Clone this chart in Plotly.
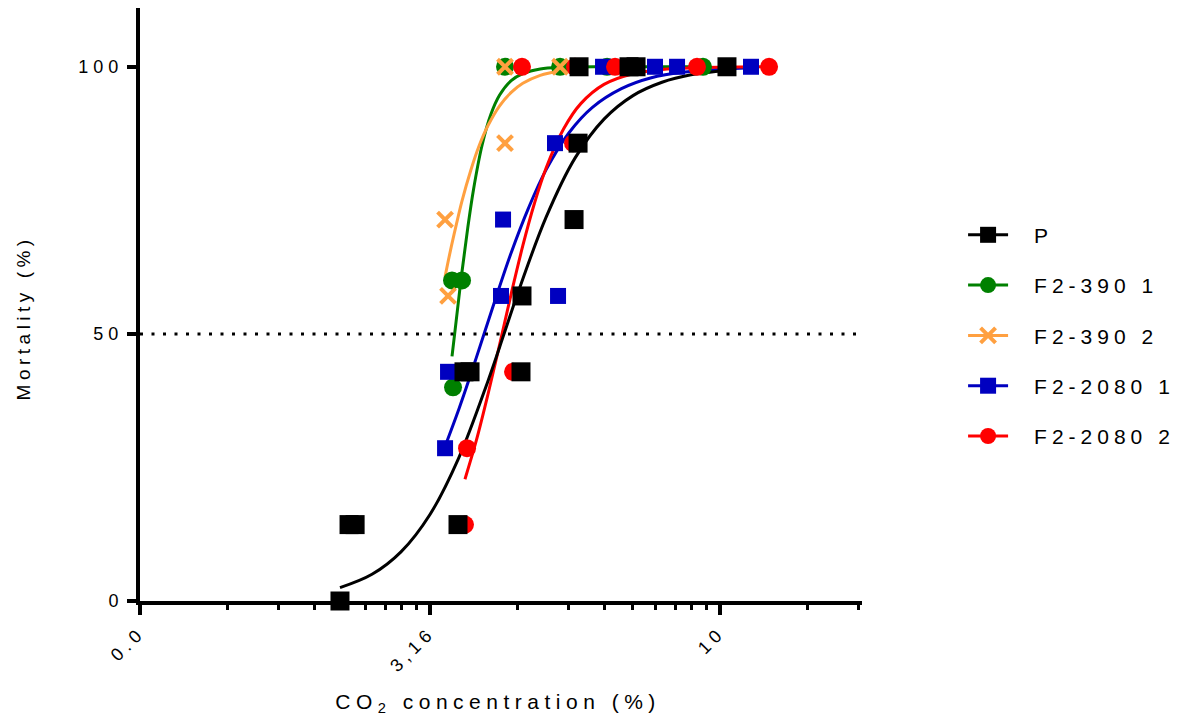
import plotly.graph_objects as go

# ---------------- observed data (CO2 %, mortality %) ----------------
p_x = [2.212, 2.293, 2.349, 3.534, 3.619, 3.707, 4.538, 4.556, 5.602, 5.692, 5.714, 6.968, 7.165, 10.28]
p_y = [0, 14.3, 14.3, 14.3, 42.9, 42.9, 42.9, 57.1, 71.4, 85.7, 100, 100, 100, 100]

g1_x = [3.451, 3.465, 3.591, 4.259, 5.299, 6.386, 9.347]
g1_y = [60, 40, 60, 100, 100, 100, 100]

g2_x = [3.357, 3.397, 4.259, 4.259, 5.299]
g2_y = [71.4, 57.1, 85.7, 100, 100]

b1_x = [3.357, 3.397, 4.192, 4.226, 5.194, 5.257, 6.285, 7.725, 8.432, 11.31]
b1_y = [28.6, 42.9, 57.1, 71.4, 85.7, 57.1, 100, 100, 100, 100]

b2_x = [3.633, 3.663, 4.397, 4.556, 5.580, 5.623, 6.592, 9.126, 12.15]
b2_y = [14.3, 28.6, 42.9, 100, 85.7, 100, 100, 100, 100]

# ---------------- fitted curves ----------------
p_fit_x = [2.212, 2.512, 2.818, 3.162, 3.548, 3.981, 4.243, 4.467, 5.012, 5.623, 6.310, 7.079, 7.943, 8.913, 10.28]
p_fit_y = [2.5, 5.0, 9.2, 16.2, 26.9, 41.2, 50.0, 57.2, 71.8, 82.9, 90.2, 94.6, 97.1, 98.5, 99.3]

g1_fit_x = [3.451, 3.508, 3.589, 3.673, 3.758, 3.890, 4.027, 4.169, 4.365, 4.571, 4.898, 5.370, 6.310, 9.347]
g1_fit_y = [45.8, 52.4, 61.5, 69.8, 77.0, 85.4, 91.1, 94.7, 97.4, 98.7, 99.6, 99.9, 100.0, 100.0]

g2_fit_x = [3.357, 3.428, 3.508, 3.589, 3.715, 3.846, 3.981, 4.169, 4.365, 4.571, 4.898, 5.299]
g2_fit_y = [60.7, 65.5, 70.3, 74.8, 80.5, 85.3, 89.0, 92.7, 95.2, 96.9, 98.4, 99.2]

b1_fit_x = [3.331, 3.548, 3.802, 4.074, 4.365, 4.677, 5.012, 5.495, 6.026, 6.761, 7.586, 8.710, 11.31]
b1_fit_y = [28.0, 36.0, 45.6, 55.6, 65.2, 73.6, 80.7, 87.7, 92.4, 95.9, 97.9, 99.0, 99.8]

b2_fit_x = [3.633, 3.802, 3.981, 4.169, 4.365, 4.571, 4.786, 5.012, 5.370, 5.754, 6.310, 7.079, 7.943, 8.913, 12.15]
b2_fit_y = [22.8, 30.1, 38.7, 48.0, 57.5, 66.5, 74.4, 81.0, 88.3, 93.1, 96.7, 98.7, 99.5, 99.8, 100.0]

# ---------------- labels ----------------
series_names = ["P", "F2-390 1", "F2-390 2", "F2-2080 1", "F2-2080 2"]
x_tick_vals = [1, 3.162, 10]
x_tick_text = ["0.0", "3,16", "10"]
y_tick_vals = [0, 50, 100]
x_minor_vals = [1.414, 1.732, 2.0, 2.236, 2.449, 2.646, 2.828, 3.0,
                4.472, 5.477, 6.325, 7.071, 7.746, 8.367, 8.944, 9.487,
                14.142, 17.32]

BLACK = "#000000"
GREEN = "#008000"
ORANGE = "#FFA040"
BLUE = "#0000C0"
RED = "#FF0000"
FONT = "Liberation Sans, Arial, sans-serif"

fig = go.Figure()

curves = [
    (g1_fit_x, g1_fit_y, GREEN),
    (g2_fit_x, g2_fit_y, ORANGE),
    (b1_fit_x, b1_fit_y, BLUE),
    (b2_fit_x, b2_fit_y, RED),
    (p_fit_x, p_fit_y, BLACK),
]
for cx, cy, col in curves:
    fig.add_trace(go.Scatter(x=cx, y=cy, mode="lines", showlegend=False,
                             line=dict(color=col, width=3, shape="spline"),
                             hoverinfo="skip", cliponaxis=False))

markers = [
    (g1_x, g1_y, GREEN, "circle", 18, None),
    (g2_x, g2_y, ORANGE, "x-thin", 15, 4),
    (b1_x, b1_y, BLUE, "square", 16, None),
    (b2_x, b2_y, RED, "circle", 18, None),
    (p_x, p_y, BLACK, "square", 19, None),
]
for mx, my, col, sym, sz, lw in markers:
    mk = dict(color=col, symbol=sym, size=sz)
    mk["line"] = dict(color=col, width=lw) if lw else dict(width=0)
    fig.add_trace(go.Scatter(x=mx, y=my, mode="markers", showlegend=False,
                             marker=mk, cliponaxis=False))

# legend entries
leg = [
    (series_names[0], BLACK, "square", 18, None),
    (series_names[1], GREEN, "circle", 18, None),
    (series_names[2], ORANGE, "x-thin", 15, 4),
    (series_names[3], BLUE, "square", 16, None),
    (series_names[4], RED, "circle", 18, None),
]
for i, (nm, col, sym, sz, lw) in enumerate(leg):
    mk = dict(color=col, symbol=sym, size=sz)
    mk["line"] = dict(color=col, width=lw) if lw else dict(width=0)
    fig.add_trace(go.Scatter(x=[None], y=[None], mode="lines+markers", name=nm,
                             legendgroup=f"g{i}", line=dict(color=col, width=3),
                             marker=mk))

fig.add_shape(type="line", xref="paper", yref="y", x0=0, x1=1, y0=50, y1=50,
              line=dict(color="black", width=3, dash="3px,8.5px"))

fig.update_layout(
    width=1179, height=724,
    margin=dict(l=140, r=317, t=8, b=123),
    paper_bgcolor="white", plot_bgcolor="white",
    font=dict(family=FONT, color="black"),
    showlegend=True,
    legend=dict(x=1.14, y=0.6515, xanchor="left", yanchor="top",
                font=dict(family=FONT, size=21, color="black"),
                tracegroupgap=20, itemwidth=40, bgcolor="rgba(0,0,0,0)"),
    xaxis=dict(type="log", range=[0, 1.2448], showline=True, linewidth=4, linecolor="black",
               ticks="outside", ticklen=10, tickwidth=4, tickcolor="black",
               tickmode="array", tickvals=x_tick_vals, ticktext=x_tick_text, tickangle=-45,
               tickfont=dict(family=FONT, size=18, color="black"),
               showgrid=False, zeroline=False,
               minor=dict(tickmode="array", tickvals=x_minor_vals, ticks="outside",
                          ticklen=5, tickwidth=3, tickcolor="black", showgrid=False)),
    yaxis=dict(range=[0, 111], showline=True, linewidth=4, linecolor="black",
               ticks="outside", ticklen=9, tickwidth=4, tickcolor="black",
               tickmode="array", tickvals=y_tick_vals,
               tickfont=dict(family=FONT, size=18, color="black"),
               showgrid=False, zeroline=False),
    annotations=[
        dict(text="Mortality (%)", xref="paper", yref="paper", x=-0.162, y=0.477,
             textangle=-90, showarrow=False, xanchor="center", yanchor="middle",
             font=dict(family=FONT, size=19, color="black")),
        dict(text="CO<sub>2</sub> concentration (%)", xref="paper", yref="paper",
             x=0.496, y=-0.172, showarrow=False, xanchor="center", yanchor="middle",
             font=dict(family=FONT, size=21, color="black")),
    ],
)

post = """
document.documentElement.style.margin = '0';
document.body.style.margin = '0';
document.body.style.padding = '0';
document.body.style.overflow = 'hidden';
var gd = document.getElementById('{plot_id}');
gd.querySelectorAll('.xtick text, .ytick text').forEach(function(t){ t.style.letterSpacing = '5px'; });
gd.querySelectorAll('.legendtext').forEach(function(t){
    t.style.letterSpacing = '5px';
    var x = parseFloat(t.getAttribute('x') || '0');
    t.setAttribute('x', x + 21);
});
gd.querySelectorAll('.legend [clip-path]').forEach(function(e){ e.removeAttribute('clip-path'); });
var ann = gd.querySelectorAll('.annotation-text');
ann.forEach(function(t, i){ t.style.letterSpacing = (i === 1) ? '5.5px' : '4.5px'; });
"""

fig.write_html("out.html", post_script=post, config={"displayModeBar": False})
